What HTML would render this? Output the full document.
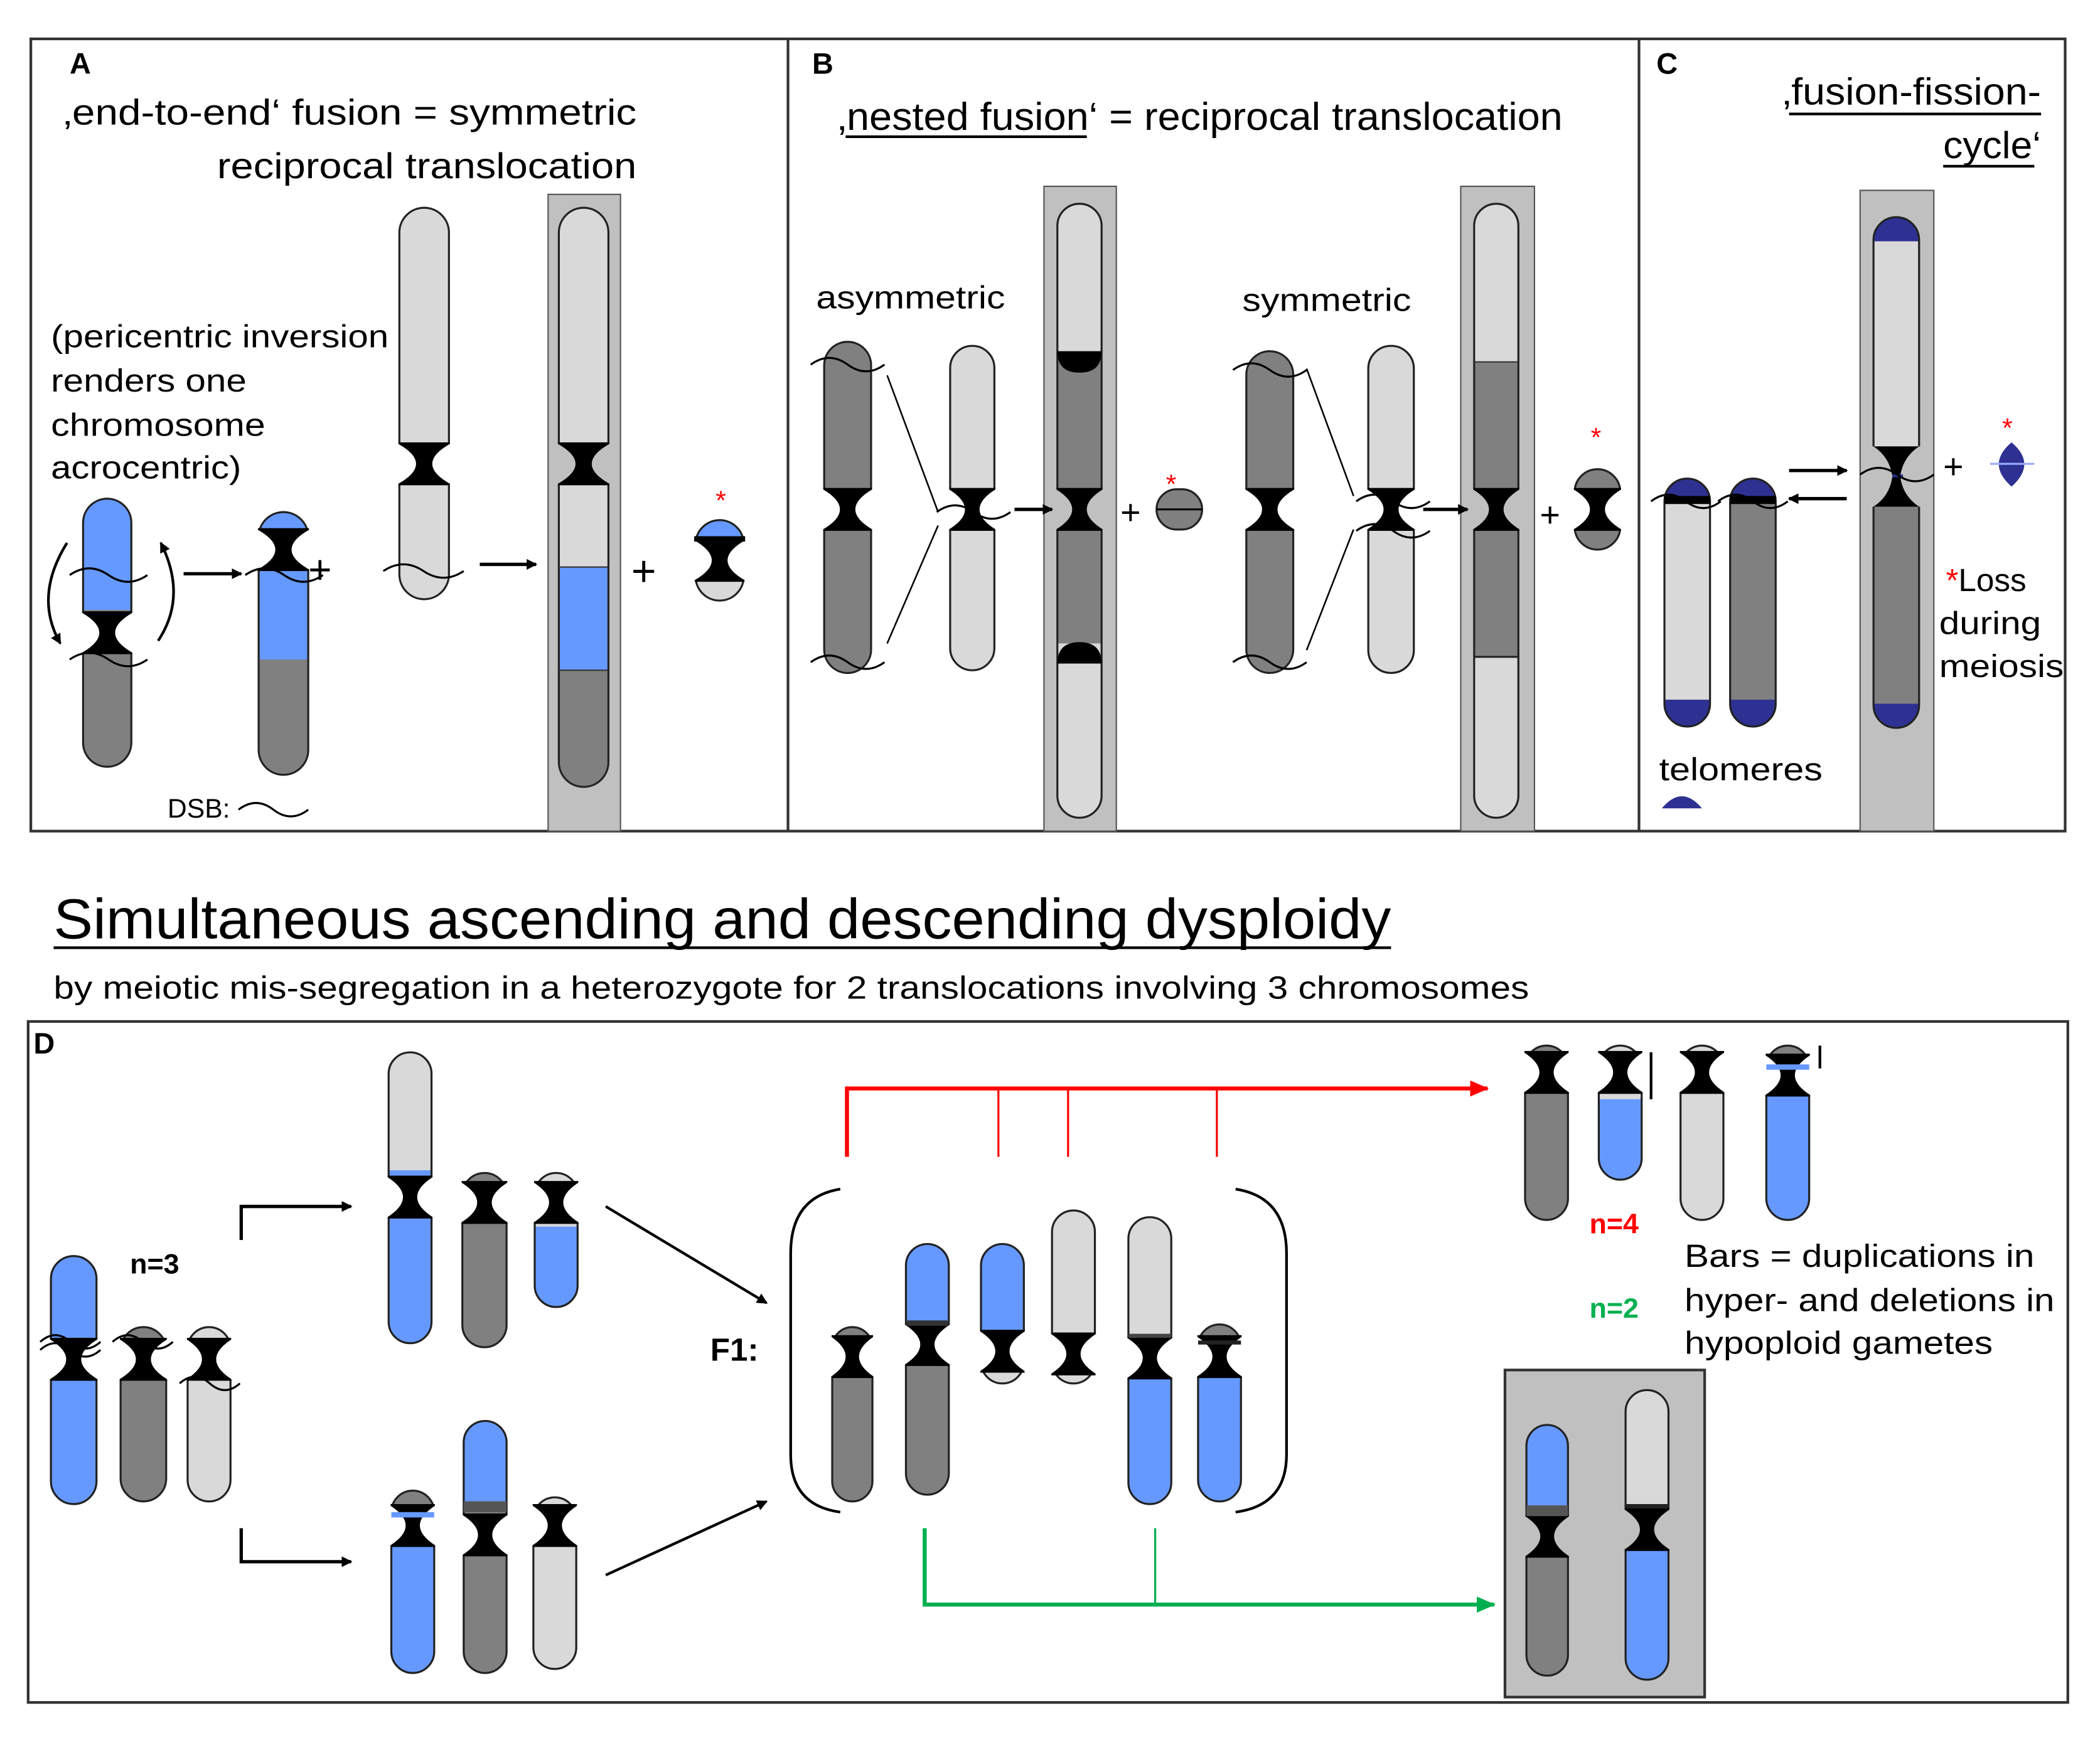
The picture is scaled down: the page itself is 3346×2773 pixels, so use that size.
<!DOCTYPE html>
<html><head><meta charset="utf-8"><style>
html,body{margin:0;padding:0;background:#fff;}
svg{display:block;}
text{font-family:"Liberation Sans","DejaVu Sans",sans-serif;fill:#000;}
</style></head><body>
<svg id="s" width="3346" height="2773" viewBox="0 0 1567 1298" preserveAspectRatio="none" xmlns="http://www.w3.org/2000/svg">
<defs>
<marker id="ak" markerWidth="8" markerHeight="8" refX="7" refY="4" orient="auto" markerUnits="userSpaceOnUse"><path d="M0,0 L8,4 L0,8 z" fill="#000"/></marker>
<marker id="ar" markerWidth="14" markerHeight="12" refX="13" refY="6" orient="auto" markerUnits="userSpaceOnUse"><path d="M0,0 L14,6 L0,12 z" fill="#f00"/></marker>
<marker id="ag" markerWidth="14" markerHeight="12" refX="13" refY="6" orient="auto" markerUnits="userSpaceOnUse"><path d="M0,0 L14,6 L0,12 z" fill="#00b050"/></marker>
</defs>
<rect width="1567" height="1298" fill="#fff"/>
<rect x="23" y="29" width="1518" height="591" fill="none" stroke="#333" stroke-width="2"/>
<line x1="588" y1="29" x2="588" y2="620" stroke="#333" stroke-width="2"/>
<line x1="1223" y1="29" x2="1223" y2="620" stroke="#333" stroke-width="2"/>
<rect x="21" y="762" width="1522" height="508" fill="none" stroke="#333" stroke-width="2"/>
<rect x="409" y="145" width="54" height="475" fill="#c0c0c0" stroke="#555"/>
<rect x="779" y="139" width="54" height="481" fill="#c0c0c0" stroke="#555"/>
<rect x="1090" y="139" width="55" height="481" fill="#c0c0c0" stroke="#555"/>
<rect x="1388" y="142" width="55" height="478" fill="#c0c0c0" stroke="#555"/>
<rect x="1123" y="1022" width="149" height="244" fill="#c0c0c0" stroke="#333" stroke-width="2"/>
<g id="g"></g>

<text x="52" y="55" font-size="22" font-weight="bold">A</text>
<text x="47" y="93" font-size="27" textLength="428" lengthAdjust="spacingAndGlyphs">‚end-to-end‘ fusion = symmetric</text>
<text x="162" y="133" font-size="27" textLength="313" lengthAdjust="spacingAndGlyphs">reciprocal translocation</text>
<text x="38" y="259" font-size="24" textLength="252" lengthAdjust="spacingAndGlyphs">(pericentric inversion</text>
<text x="38" y="292" font-size="24" textLength="146" lengthAdjust="spacingAndGlyphs">renders one</text>
<text x="38" y="325" font-size="24" textLength="160" lengthAdjust="spacingAndGlyphs">chromosome</text>
<text x="38" y="357" font-size="24" textLength="142" lengthAdjust="spacingAndGlyphs">acrocentric)</text>
<text x="125" y="610" font-size="20">DSB:</text>
<text x="230" y="435" font-size="30">+</text>
<text x="471" y="437" font-size="32">+</text>
<text x="534" y="380" font-size="20" style="fill:#f00">*</text>

<text x="606" y="55" font-size="22" font-weight="bold">B</text>
<text x="625" y="97" font-size="29" textLength="541" lengthAdjust="spacingAndGlyphs">‚nested fusion‘ = reciprocal translocation</text>
<line x1="631" y1="102" x2="811" y2="102" stroke="#000" stroke-width="2"/>
<text x="609" y="230" font-size="24" textLength="141" lengthAdjust="spacingAndGlyphs">asymmetric</text>
<text x="927" y="232" font-size="24" textLength="126" lengthAdjust="spacingAndGlyphs">symmetric</text>
<text x="836" y="391" font-size="26">+</text>
<text x="1149" y="393" font-size="26">+</text>
<text x="870" y="368" font-size="20" style="fill:#f00">*</text>
<text x="1187" y="333" font-size="20" style="fill:#f00">*</text>

<text x="1236" y="55" font-size="22" font-weight="bold">C</text>
<text x="1330" y="78" font-size="28" textLength="193" lengthAdjust="spacingAndGlyphs">‚fusion-fission-</text>
<line x1="1335" y1="85" x2="1523" y2="85" stroke="#000" stroke-width="2"/>
<text x="1450" y="118" font-size="28" textLength="73" lengthAdjust="spacingAndGlyphs">cycle‘</text>
<line x1="1450" y1="124" x2="1518" y2="124" stroke="#000" stroke-width="2"/>
<text x="1450" y="357" font-size="26">+</text>
<text x="1494" y="326" font-size="20" style="fill:#f00">*</text>
<text x="1452" y="441" font-size="24"><tspan style="fill:#f00">*</tspan>Loss</text>
<text x="1447" y="473" font-size="24" textLength="76" lengthAdjust="spacingAndGlyphs">during</text>
<text x="1447" y="505" font-size="24" textLength="93" lengthAdjust="spacingAndGlyphs">meiosis</text>
<text x="1238" y="582" font-size="24" textLength="122" lengthAdjust="spacingAndGlyphs">telomeres</text>

<text x="40" y="700" font-size="42" textLength="998" lengthAdjust="spacingAndGlyphs">Simultaneous ascending and descending dysploidy</text>
<line x1="40" y1="707" x2="1038" y2="707" stroke="#000" stroke-width="2"/>
<text x="40" y="745" font-size="24" textLength="1101" lengthAdjust="spacingAndGlyphs">by meiotic mis-segregation in a heterozygote for 2 translocations involving 3 chromosomes</text>

<text x="25" y="786" font-size="22" font-weight="bold">D</text>
<text x="97" y="950" font-size="21" font-weight="bold">n=3</text>
<text x="530" y="1015" font-size="24" font-weight="bold">F1:</text>
<text x="1186" y="920" font-size="21" font-weight="bold" style="fill:#f00">n=4</text>
<text x="1186" y="983" font-size="21" font-weight="bold" style="fill:#00b050">n=2</text>
<text x="1257" y="945" font-size="24" textLength="261" lengthAdjust="spacingAndGlyphs">Bars = duplications in</text>
<text x="1257" y="978" font-size="24" textLength="276" lengthAdjust="spacingAndGlyphs">hyper- and deletions in</text>
<text x="1257" y="1010" font-size="24" textLength="230" lengthAdjust="spacingAndGlyphs">hypoploid gametes</text>
</svg>
<script>
var NS="http://www.w3.org/2000/svg",G=document.getElementById("g"),cid=0;
var L="#d9d9d9",D="#808080",B="#6699ff",N="#2e3192",K="#000",GB="#c0c0c0";
function el(t,a,p){var e=document.createElementNS(NS,t);for(var k in a)e.setAttribute(k,a[k]);(p||G).appendChild(e);return e;}
function chrom(x,y,w,h,segs,cents,r,bg){
  r=(r===undefined||r===null)?w/2:r;bg=bg||"#fff";var id="c"+(cid++);
  var cp=el("clipPath",{id:id});el("rect",{x:x,y:y,width:w,height:h,rx:r,ry:r},cp);
  var g=el("g",{"clip-path":"url(#"+id+")"});
  el("rect",{x:x,y:y,width:w,height:h,fill:segs.length?segs[0][2]:L},g);
  segs.forEach(function(s){el("rect",{x:x,y:s[0],width:w,height:s[1]-s[0],fill:s[2]},g);});
  el("rect",{x:x,y:y,width:w,height:h,rx:r,ry:r,fill:"none",stroke:"#222","stroke-width":1.5});
  (cents||[]).forEach(function(c){
    var hh=16;
    el("rect",{x:x-0.5,y:c-hh,width:w+1,height:2*hh,fill:K});
    el("path",{d:"M"+(x-1)+","+(c-hh+1)+" Q"+(x+w*0.7)+","+c+" "+(x-1)+","+(c+hh-1)+"z",fill:bg});
    el("path",{d:"M"+(x+w+1)+","+(c-hh+1)+" Q"+(x+w*0.3)+","+c+" "+(x+w+1)+","+(c+hh-1)+"z",fill:bg});
  });
}
function wave(x,y,w){el("path",{d:"M"+x+","+(y+4)+" q"+(w/4)+",-10 "+(w/2)+",0 t"+(w/2)+",0",fill:"none",stroke:"#000","stroke-width":1.5});}
function line(x1,y1,x2,y2,c,m,sw){var a={x1:x1,y1:y1,x2:x2,y2:y2,stroke:c||"#000","stroke-width":sw||1.5};if(m)a["marker-end"]="url(#"+m+")";el("line",a);}
function pl(pts,c,m,sw){var a={points:pts,fill:"none",stroke:c,"stroke-width":sw||2};if(m)a["marker-end"]="url(#"+m+")";el("polyline",a);}

/* Panel A */
chrom(62,372,36,200,[[372,455,B],[455,572,D]],[472]);
wave(52,425,58);wave(52,488,58);
el("path",{d:"M50,405 Q25,445 45,480",fill:"none",stroke:"#000","stroke-width":2,"marker-end":"url(#ak)"});
el("path",{d:"M118,478 Q140,445 120,405",fill:"none",stroke:"#000","stroke-width":2,"marker-end":"url(#ak)"});
chrom(193,382,37,196,[[382,492,B],[492,578,D]],[410]);
wave(183,425,58);
line(137,428,180,428,"#000","ak",2.5);
chrom(298,155,37,292,[[155,447,L]],[346]);
wave(286,422,60);
line(358,421,400,421,"#000","ak",2.5);
chrom(417,155,37,432,[[155,423,L],[423,500,B],[500,587,D]],[346],null,GB);
line(417,423,454,423,"#333",0,1);line(417,500,454,500,"#333",0,1);
chrom(519,388,36,60,[[388,418,B],[418,448,L]],[418]);
el("rect",{x:518,y:400,width:38,height:4,fill:K});
wave(178,600,52);

/* Panel B */
chrom(615,255,35,247,[[255,502,D]],[380]);wave(605,268,55);wave(605,490,55);
chrom(709,258,33,242,[[258,500,L]],[380]);
line(662,280,700,382,"#000",0,1.2);line(662,480,700,392,"#000",0,1.2);
wave(699,378,55);
line(757,380,785,380,"#000","ak",2.5);
chrom(789,152,33,458,[[152,262,L],[262,480,D],[480,610,L]],[380],null,GB);
el("path",{d:"M789,262 h33 q0,16 -16.5,16 q-16.5,0 -16.5,-16z",fill:K});
el("path",{d:"M789,495 h33 q0,-16 -16.5,-16 q-16.5,0 -16.5,16z",fill:K});
chrom(863,365,34,30,[[365,395,D]],[],15);line(863,380,897,380,"#000",0,1.5);
chrom(930,262,35,240,[[262,502,D]],[380]);wave(920,272,55);wave(920,490,55);
chrom(1021,258,34,244,[[258,502,L]],[380]);
line(975,275,1010,370,"#000",0,1.2);line(975,485,1010,395,"#000",0,1.2);
wave(1012,370,55);wave(1012,392,55);
line(1062,380,1095,380,"#000","ak",2.5);
chrom(1100,152,33,458,[[152,270,L],[270,490,D],[490,610,L]],[380],null,GB);
line(1100,270,1133,270,"#333",0,1);line(1100,490,1133,490,"#222",0,1.5);
chrom(1175,350,34,60,[[350,410,D]],[380],17);

/* Panel C */
chrom(1242,357,34,185,[[357,375,N],[375,522,L],[522,542,N]],[]);
el("rect",{x:1242,y:370,width:34,height:6,fill:K});
chrom(1291,357,34,185,[[357,375,N],[375,522,D],[522,542,N]],[]);
el("rect",{x:1291,y:370,width:34,height:6,fill:K});
wave(1232,370,52);wave(1282,370,52);
line(1335,351,1378,351,"#000","ak",2.5);line(1378,372,1335,372,"#000","ak",2.5);
chrom(1398,162,34,381,[[162,180,N],[180,345,L],[345,525,D],[525,543,N]],[]);
el("rect",{x:1397,y:333,width:36,height:45,fill:GB});
el("path",{d:"M1398,333 h34 q-12,8 -14,22 h-6 q-2,-14 -14,-22z",fill:K});
el("path",{d:"M1398,378 h34 q-12,-8 -14,-22 h-6 q-2,14 -14,22z",fill:K});
line(1412,355,1420,355,N,0,2);
wave(1388,350,55);
el("path",{d:"M1501,330 Q1520,346 1501,363 Q1482,346 1501,330z",fill:N});
line(1485,346,1518,346,"#99aaff",0,1.5);
el("path",{d:"M1240,603 Q1255,585 1270,603z",fill:N});

/* Panel D */
chrom(38,937,34,185,[[937,1005,B],[1005,1122,B]],[1014]);
chrom(90,990,34,130,[[990,1005,D],[1005,1120,D]],[1014]);
chrom(140,990,32,130,[[990,1005,L],[1005,1120,L]],[1014]);
wave(30,997,45);wave(30,1003,45);wave(84,997,45);wave(134,1028,45);
pl("180,925 180,900 262,900","#000","ak",2.5);
pl("180,1140 180,1165 262,1165","#000","ak",2.5);
chrom(290,785,32,217,[[785,873,L],[873,1002,B]],[893]);
chrom(345,875,33,130,[[875,1005,D]],[897]);
chrom(399,875,32,100,[[875,905,L],[905,915,L],[915,975,B]],[897]);
chrom(292,1112,32,136,[[1112,1130,D],[1130,1248,B]],[1138]);
el("rect",{x:292,y:1128,width:32,height:4,fill:B});
chrom(346,1060,32,188,[[1060,1120,B],[1120,1248,D]],[1145]);
el("rect",{x:346,y:1120,width:32,height:8,fill:"#555"});
chrom(398,1117,32,128,[[1117,1245,L]],[1138]);
line(452,900,572,972,"#000","ak",2);line(452,1175,572,1120,"#000","ak",2);
el("path",{d:"M627,887 Q590,893 590,935 L590,1085 Q590,1123 627,1128",fill:"none",stroke:"#000","stroke-width":2});
el("path",{d:"M922,887 Q960,893 960,935 L960,1085 Q960,1123 922,1128",fill:"none",stroke:"#000","stroke-width":2});
chrom(621,990,30,130,[[990,1120,D]],[1012]);
chrom(676,928,32,187,[[928,988,B],[988,1115,D]],[1003]);
el("rect",{x:676,y:985,width:32,height:4,fill:"#333"});
chrom(732,928,32,104,[[928,993,B],[993,1032,L]],[1008]);
chrom(785,903,32,129,[[903,1032,L]],[1010]);
chrom(842,908,32,214,[[908,995,L],[995,1122,B]],[1013]);
el("rect",{x:842,y:995,width:32,height:3,fill:"#444"});
chrom(894,988,32,132,[[988,1000,D],[1000,1120,B]],[1012]);
el("rect",{x:894,y:1000,width:32,height:3,fill:"#222"});
pl("632,863 632,812 1110,812","#f00","ar",3);
line(745,812,745,863,"#f00",0,1.5);line(797,812,797,863,"#f00",0,1.5);line(908,812,908,863,"#f00",0,1.5);
chrom(1138,780,32,130,[[780,910,D]],[800]);
chrom(1193,780,32,100,[[780,820,L],[820,880,B]],[800]);
line(1232,785,1232,820,"#000",0,2);
chrom(1254,780,32,130,[[780,910,L]],[800]);
chrom(1318,780,32,130,[[780,796,D],[796,910,B]],[802]);
el("rect",{x:1318,y:794,width:32,height:4,fill:B});
line(1358,780,1358,797,"#000",0,2);
pl("690,1140 690,1197 1115,1197","#00b050","ag",3);
line(862,1140,862,1197,"#00b050",0,1.5);
chrom(1139,1063,31,187,[[1063,1123,B],[1123,1250,D]],[1146],null,GB);
el("rect",{x:1139,y:1123,width:31,height:8,fill:"#555"});
chrom(1213,1037,32,216,[[1037,1125,L],[1125,1253,B]],[1141],null,GB);
el("rect",{x:1213,y:1122,width:32,height:3,fill:"#222"});
</script>
</body></html>
